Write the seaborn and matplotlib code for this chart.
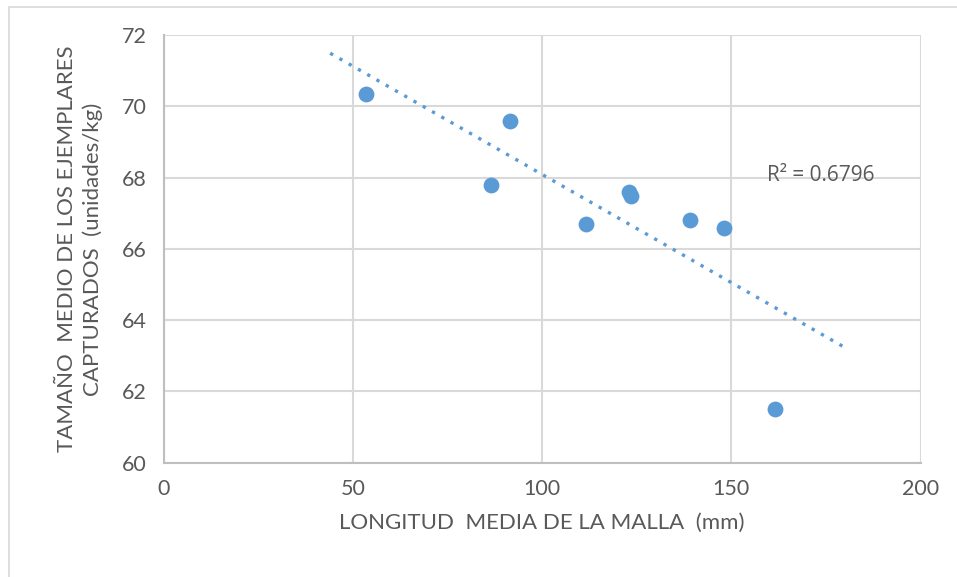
import numpy as np
import pandas as pd
import matplotlib.pyplot as plt
import seaborn as sns

# Data
longitud = [53.5, 86.5, 91.5, 111.5, 123.0, 123.5, 139.0, 148.0, 161.5]
tamano = [70.35, 67.8, 69.6, 66.7, 67.6, 67.5, 66.8, 66.6, 61.5]
trend_x = [44, 180]
r2_label = 'R² = 0.6796'

df = pd.DataFrame({'longitud': longitud, 'tamano': tamano})

sns.set_style('white')
plt.rcParams['font.family'] = ['Lato', 'DejaVu Sans']

color = '#5b9bd5'
text_color = '#595959'
grid_color = '#d9d9d9'

fig = plt.figure(figsize=(9.57, 5.77), dpi=100)
ax = fig.add_axes([0.171, 0.198, 0.791, 0.741])

# linear trendline (least squares) over the extended range
slope, intercept = np.polyfit(df['longitud'], df['tamano'], 1)
tx = np.array(trend_x)
ax.plot(tx, slope * tx + intercept, linestyle=(0, (1, 2.2)), color=color, lw=2.4, zorder=2)

sns.scatterplot(data=df, x='longitud', y='tamano', color=color, s=130,
                edgecolor=color, linewidth=0, ax=ax, zorder=3)

ax.set_xlim(0, 200)
ax.set_ylim(60, 72)
ax.set_xticks(range(0, 201, 50))
ax.set_yticks(range(60, 73, 2))
ax.grid(True, color=grid_color, lw=1.5)
ax.set_axisbelow(True)
for side in ['top', 'right']:
    ax.spines[side].set_visible(False)
for side in ['left', 'bottom']:
    ax.spines[side].set_color('#bfbfbf')
    ax.spines[side].set_linewidth(1.5)
ax.tick_params(length=0, labelsize=15.5, colors=text_color, pad=12)

ax.set_xlabel('LONGITUD  MEDIA DE LA MALLA  (mm)', fontsize=16, color=text_color, labelpad=10)
ax.set_ylabel('TAMAÑO  MEDIO DE LOS EJEMPLARES\nCAPTURADOS  (unidades/kg)', fontsize=16,
              color=text_color, labelpad=14, linespacing=1.3)

ax.text(159.5, 68.07, r2_label, fontsize=15, color=text_color, va='center',
        family=['Open Sans', 'DejaVu Sans'])

# outer chart border
fig.add_artist(plt.Rectangle((9 / 957, -0.01), 1.0, 1 - 7 / 577 + 0.01, transform=fig.transFigure,
                             fill=False, edgecolor='#d9d9d9', lw=1.2))

fig.savefig('out.png', dpi=100)
